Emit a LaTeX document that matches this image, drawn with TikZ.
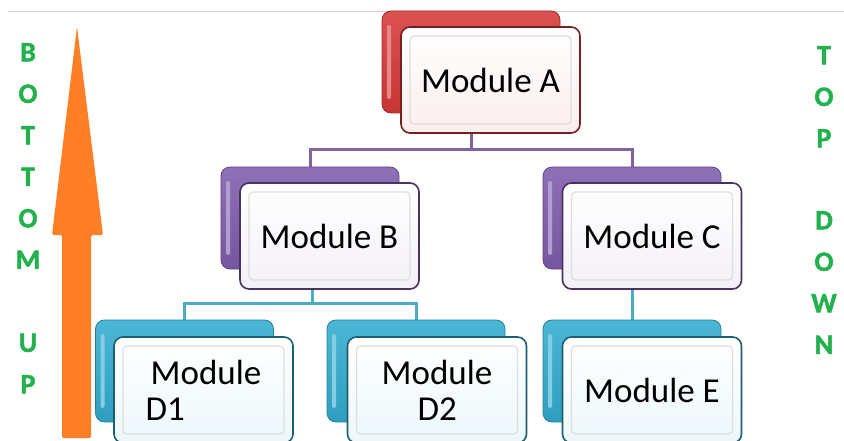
\documentclass[tikz,border=0pt]{standalone}
\usepackage{fontspec}
\setmainfont{Carlito}
\newfontfamily\capfont[BoldFeatures={FakeBold=1.6}]{Carlito}
\usetikzlibrary{backgrounds,calc}

\definecolor{modred}{HTML}{D63A38}
\definecolor{modpurple}{HTML}{7F5DAD}
\definecolor{modblue}{HTML}{33ACCF}
\definecolor{linkpurple}{HTML}{8064A2}
\definecolor{linkblue}{HTML}{4BACC6}
\definecolor{arroworange}{HTML}{FF7F27}
\definecolor{lettergreen}{HTML}{22B14C}

\tikzset{
  backbox/.style={rectangle, rounded corners=9pt, inner sep=0pt,
    minimum width=178pt, minimum height=102pt,
    draw=#1!75!black, line width=0.8pt,
    top color=#1!88!white, bottom color=#1!92!black,
    path picture={
      \fill[#1!60!white, rounded corners=2pt]
        ($(path picture bounding box.north west)+(5pt,-14pt)$) rectangle
        ($(path picture bounding box.south west)+(9pt,14pt)$);
    }},
  frontbox/.style={rectangle, rounded corners=9pt, inner sep=0pt,
    minimum width=179pt, minimum height=106pt,
    draw=#1!55!black, line width=1.6pt,
    top color=white, bottom color=#1!9!white,
    text=black, font=\fontsize{35}{36}\selectfont, align=left,
    path picture={
      \draw[black!13, line width=1.2pt, rounded corners=4pt]
        ($(path picture bounding box.south west)+(9pt,9pt)$) rectangle
        ($(path picture bounding box.north east)+(-9pt,-9pt)$);
    }},
  link/.style={draw=#1, line width=3pt},
  letters/.style={text=lettergreen,
    font=\capfont\fontsize{28}{41.5}\selectfont\bfseries,
    align=center, inner sep=0pt}
}

\begin{document}
\begin{tikzpicture}[x=1pt, y=-1pt]
\useasboundingbox (0,0) rectangle (844,441);

% thin rule along the top
\draw[black!18, line width=0.8pt] (8,11) -- (844,11);

% upward arrow
\fill[arroworange, rounded corners=1.5pt]
  (77,27) -- (103,235) -- (91,235) -- (91,438) -- (62,438)
  -- (62,235) -- (52,235) -- cycle;

% side captions
\node[letters, anchor=north] (bu) at (28,43)
  {B\\O\\T\\T\\O\\M\\[41.5pt]U\\P};
\node[letters, anchor=north] (td) at (824,46)
  {T\\O\\P\\[40.5pt]D\\O\\W\\N};

% modules: shadow card behind, face card in front
\node[backbox=modred]    (Ab)  at (471,62)   {};
\node[frontbox=modred]   (A)   at (490.5,80) {Module A};

\node[backbox=modpurple]  (Bb) at (310,218)   {};
\node[frontbox=modpurple] (B)  at (329.5,236) {Module B};
\node[backbox=modpurple]  (Cb) at (632,218)   {};
\node[frontbox=modpurple] (C)  at (652,236)   {Module C};

\node[backbox=modblue]  (D1b) at (184.5,371) {};
\node[frontbox=modblue] (D1)  at (203.5,390) {\hspace*{5pt}Module\\D1};
\node[backbox=modblue]  (D2b) at (416,371)   {};
\node[frontbox=modblue] (D2)  at (437,390)   {Module\\\hspace*{36pt}D2};
\node[backbox=modblue]  (Eb)  at (632,371)   {};
\node[frontbox=modblue] (E)   at (652,390)   {Module E};

% connectors, kept behind the cards
\coordinate (jA) at (471,150);
\coordinate (jB) at (312,303);
\begin{pgfonlayer}{background}
  \draw[link=linkpurple] (Ab.center) -- (jA);
  \draw[link=linkpurple] (Bb.north) |- (jA) -| (Cb.north);
  \draw[link=linkblue] (jB |- Bb.center) -- (jB);
  \draw[link=linkblue] (D1b.north) |- (jB) -| (D2b.north);
  \draw[link=linkblue] (Cb.center) -- (Eb.north);
\end{pgfonlayer}
\end{tikzpicture}
\end{document}
